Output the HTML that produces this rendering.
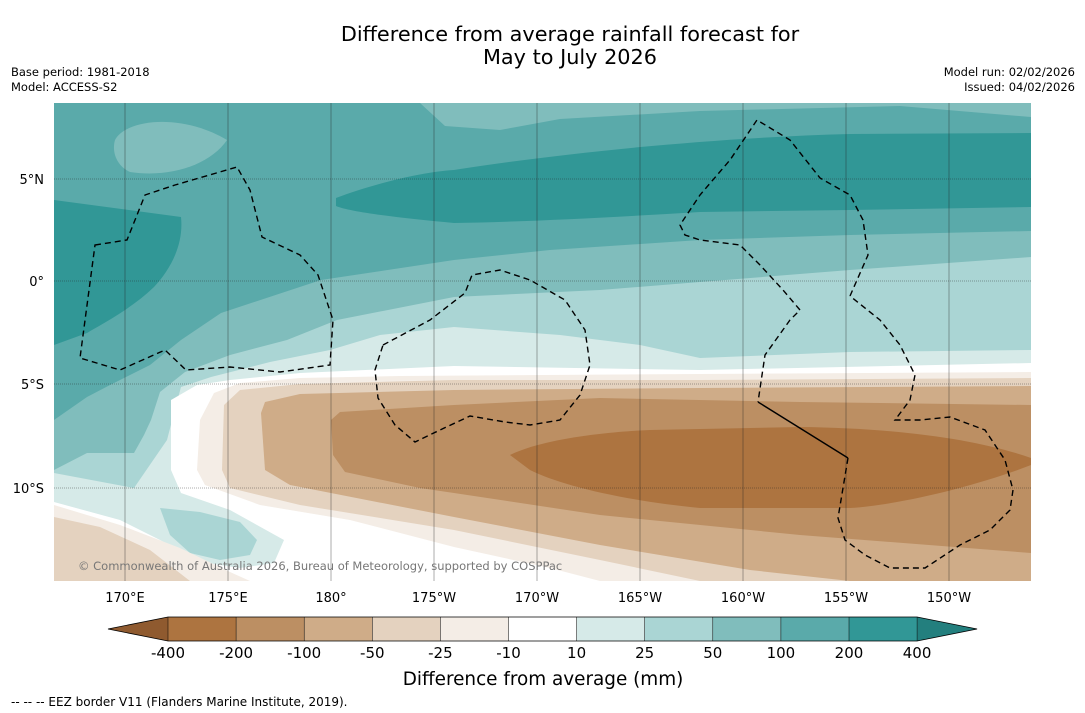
<!DOCTYPE html>
<html><head><meta charset="utf-8"><style>
body{margin:0;background:#fff;width:1085px;height:713px;overflow:hidden;font-family:"DejaVu Sans","Liberation Sans",sans-serif}
svg{position:absolute;left:0;top:0}
</style></head><body>
<svg width="1085" height="713" viewBox="0 0 1085 713" font-family="DejaVu Sans, Liberation Sans, sans-serif">
<text x="570" y="41" font-size="20.8" text-anchor="middle">Difference from average rainfall forecast for</text>
<text x="570" y="64" font-size="20.8" text-anchor="middle">May to July 2026</text>
<text x="11" y="76" font-size="11.5">Base period: 1981-2018</text>
<text x="11" y="91" font-size="11.5">Model: ACCESS-S2</text>
<text x="1075" y="76" font-size="11.5" text-anchor="end">Model run: 02/02/2026</text>
<text x="1075" y="91" font-size="11.5" text-anchor="end">Issued: 04/02/2026</text>
<defs><clipPath id="mc"><rect x="54" y="103" width="977" height="478"/></clipPath></defs>
<g clip-path="url(#mc)">
<rect x="54" y="103" width="977" height="478" fill="#5aaaaa"/>
<path d="M420,103 L1031,103 L1031,117 L900,106 L700,111 L560,119 L500,130 L445,126 Z" fill="#80bdbc"/>
<path d="M115,140 C125,120 180,112 227,140 C210,165 170,178 130,172 C115,165 112,150 115,140 Z" fill="#80bdbc"/>
<path d="M336,198 C370,185 420,172 454,170 C550,155 700,138 850,134 L1031,133 L1031,207 L850,210 L700,212 C600,218 520,222 454,223 C400,218 350,212 336,206 Z" fill="#319796"/>
<path d="M54,200 L181,217 C184,245 170,270 154,287 C130,310 100,325 87,333 L54,345 Z" fill="#319796"/>
<path d="M1031,231 L850,235 L700,240 L550,250 L454,260 L321,280 L221,313 L181,340 L150,365 L110,385 L87,397 L54,420 L54,581 L1031,581 Z" fill="#80bdbc"/>
<path d="M1031,257 L850,270 L700,282 L600,290 L454,297 L337,320 L287,340 L230,355 L185,372 L160,392 L151,420 L144,435 L134,453 L87,453 L54,470 L54,581 L1031,581 Z" fill="#aad5d4"/>
<path d="M1031,350 L850,352 L700,358 L640,345 L560,335 L454,327 L380,335 L330,350 L270,362 L211,377 L181,387 L174,413 L167,440 L134,488 L54,473 L54,581 L1031,581 Z" fill="#d6eae8"/>
<path d="M1031,363 L700,370 L454,366 L300,373 L230,380 L197,385 L171,400 L171,470 L181,493 L230,510 L284,540 L274,563 L240,568 L200,562 L160,540 L120,520 L54,502 L54,581 L1031,581 Z" fill="#ffffff"/>
<path d="M160,508 L200,512 L240,522 L257,540 L250,555 L220,560 L190,553 L170,535 Z" fill="#aad5d4"/>
<path d="M54,505 L120,525 L180,548 L230,572 L250,581 L54,581 Z" fill="#f4ede6"/>
<path d="M54,517 L100,527 L150,550 L190,581 L54,581 Z" fill="#e4d2bf"/>
<path d="M1031,372 L700,374 L400,376 L300,378 L240,383 L214,393 L200,420 L197,470 L205,485 L260,505 L350,520 L454,547 L550,568 L600,581 L1031,581 Z" fill="#f4ede6"/>
<path d="M1031,378 L700,380 L454,380 L300,384 L240,390 L224,405 L222,470 L230,488 L300,505 L454,530 L600,560 L700,581 L1031,581 Z" fill="#e4d2bf"/>
<path d="M1031,386 L700,388 L454,390 L300,394 L265,402 L261,413 L265,470 L290,485 L454,517 L600,545 L750,570 L850,581 L1031,581 Z" fill="#cfac88"/>
<path d="M1031,405 L800,402 L600,398 L454,405 L340,412 L331,420 L333,455 L345,472 L420,488 L454,493 L600,515 L800,535 L1031,553 Z" fill="#bc8f63"/>
<path d="M510,455 C540,440 600,432 650,430 L800,427 C900,428 980,440 1031,458 L1031,465 C980,485 900,505 850,508 L700,508 C620,500 560,485 530,470 Z" fill="#ad7440"/>
<g stroke="#222" stroke-width="0.5" stroke-opacity="0.75">
<line x1="125" y1="103" x2="125" y2="581"/><line x1="228" y1="103" x2="228" y2="581"/><line x1="331" y1="103" x2="331" y2="581"/><line x1="434" y1="103" x2="434" y2="581"/><line x1="537" y1="103" x2="537" y2="581"/><line x1="640" y1="103" x2="640" y2="581"/><line x1="743" y1="103" x2="743" y2="581"/><line x1="846" y1="103" x2="846" y2="581"/><line x1="949" y1="103" x2="949" y2="581"/>
<line x1="54" y1="179" x2="1031" y2="179" stroke-dasharray="1,1"/><line x1="54" y1="281" x2="1031" y2="281" stroke-dasharray="1,1"/><line x1="54" y1="384" x2="1031" y2="384" stroke-dasharray="1,1"/><line x1="54" y1="488" x2="1031" y2="488" stroke-dasharray="1,1"/>
</g>
<g fill="none" stroke="#000" stroke-width="1.4" stroke-dasharray="6,4">
<path d="M95,245 L127,240 L145,195 L175,185 L237,167 L250,190 L262,237 L300,255 L318,275 L333,320 L330,365 L280,372 L230,367 L186,370 L165,350 L120,370 L80,358 Z"/>
<path d="M383,345 L430,320 L465,293 L472,275 L500,270 L530,280 L565,300 L585,330 L590,365 L580,395 L560,420 L530,425 L505,422 L470,416 L440,430 L415,442 L395,425 L378,398 L375,370 Z"/>
<path d="M850,296 L868,255 L863,220 L850,195 L820,178 L790,140 L757,120 L730,160 L700,195 L680,225 L685,235 L700,240 L740,245 L760,265 L783,290 L800,310 L790,320 L765,355 L758,402"/>
<path d="M848,458 L838,518 L845,540 L865,555 L890,568 L925,568 L960,545 L990,530 L1010,510 L1013,490 L1005,460 L985,430 L950,417 L920,420 L895,420 L910,400 L915,375 L900,345 L880,320 L850,296"/>
<path d="M758,402 L848,458" stroke-dasharray="none"/>
</g>
<text x="78" y="570" font-size="11.5" fill="#777">© Commonwealth of Australia 2026, Bureau of Meteorology, supported by COSPPac</text>
</g>
<g font-size="13" text-anchor="middle">
<text x="125" y="602">170°E</text><text x="228" y="602">175°E</text><text x="331" y="602">180°</text><text x="434" y="602">175°W</text><text x="537" y="602">170°W</text><text x="640" y="602">165°W</text><text x="743" y="602">160°W</text><text x="846" y="602">155°W</text><text x="949" y="602">150°W</text>
</g>
<g font-size="13" text-anchor="end">
<text x="44" y="184">5°N</text><text x="44" y="286">0°</text><text x="44" y="389">5°S</text><text x="44" y="493">10°S</text>
</g>
<g id="cbar"></g>
<text x="543" y="685" font-size="18.4" text-anchor="middle">Difference from average (mm)</text>
<text x="11" y="706" font-size="12">--  --  -- EEZ border V11 (Flanders Marine Institute, 2019).</text>
</svg>
<script>
const levels = ["-400","-200","-100","-50","-25","-10","10","25","50","100","200","400"];
const bandColors = ["#ad7440","#bc8f63","#cfac88","#e4d2bf","#f4ede6","#ffffff","#d6eae8","#aad5d4","#80bdbc","#5aaaaa","#319796"];
const extendColors = ["#8f5a2f","#237f7e"];
const NS = "http://www.w3.org/2000/svg";
const g = document.getElementById('cbar');
const x0 = 168, w = 68.1, y0 = 617, h = 24;
function mk(tag, attrs){const e=document.createElementNS(NS,tag);for(const k in attrs)e.setAttribute(k,attrs[k]);g.appendChild(e);return e;}
bandColors.forEach((c,i)=>{
  const r = mk('rect',{x:x0+i*w,y:y0,width:w,height:h,fill:c});
  
  
});
const xe = x0 + bandColors.length*w;
const tl = mk('polygon',{points:`${x0},${y0} ${x0-60},${y0+h/2} ${x0},${y0+h}`,fill:extendColors[0]});


const tr = mk('polygon',{points:`${xe},${y0} ${xe+60},${y0+h/2} ${xe},${y0+h}`,fill:extendColors[1]});


const ol = mk('polygon',{points:`${x0-60},${y0+h/2} ${x0},${y0} ${xe},${y0} ${xe+60},${y0+h/2} ${xe},${y0+h} ${x0},${y0+h}`,fill:'none',stroke:'#000','stroke-width':0.8});


levels.forEach((l,i)=>{
  const ln = mk('line',{x1:x0+i*w,y1:y0,x2:x0+i*w,y2:y0+h,stroke:'#000','stroke-width':0.5});
  
  
  const t = mk('text',{x:x0+i*w,y:658,'font-size':15,'text-anchor':'middle'});
  t.textContent = l;
  
  
});
</script>
</body></html>
